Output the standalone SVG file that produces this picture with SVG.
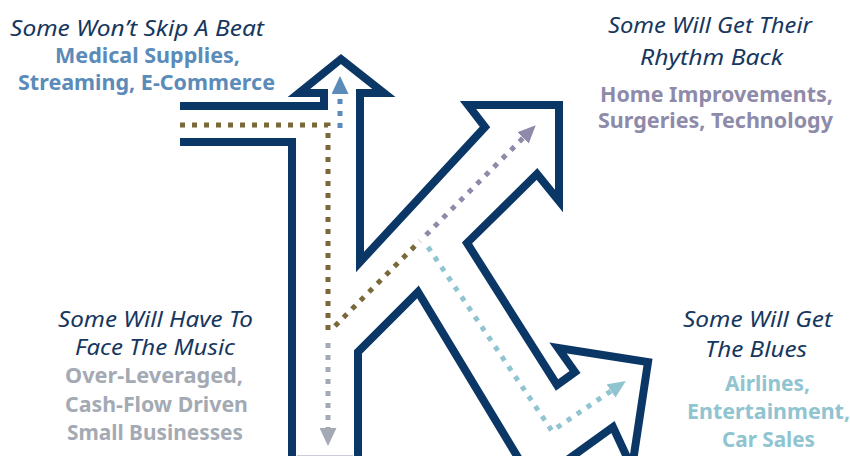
<svg xmlns="http://www.w3.org/2000/svg" width="850" height="456" viewBox="0 0 850 456">
  <style>
    .outline { fill: none; stroke: #0b3766; stroke-width: 8; stroke-linejoin: miter; stroke-miterlimit: 6; }
    .head { font-family: "Noto Sans", "Liberation Sans", Arial, sans-serif; font-style: italic; font-size: 21px; fill: #17375e; text-anchor: middle; }
    .cat { font-family: "Noto Sans", "Liberation Sans", Arial, sans-serif; font-weight: bold; font-size: 21px; text-anchor: middle; }
    .dot { fill: none; stroke-width: 5; stroke-dasharray: 5 7; }
  </style>
  <defs>
    <marker id="m-blue" markerUnits="userSpaceOnUse" markerWidth="18" markerHeight="17" viewBox="0 0 18 17" refX="0" refY="8.5" orient="auto"><path d="M0,0 L18,8.5 L0,17 z" fill="#5b8bb9"/></marker>
    <marker id="m-gray" markerUnits="userSpaceOnUse" markerWidth="18" markerHeight="17" viewBox="0 0 18 17" refX="0" refY="8.5" orient="auto"><path d="M0,0 L18,8.5 L0,17 z" fill="#a3aab4"/></marker>
    <marker id="m-purple" markerUnits="userSpaceOnUse" markerWidth="18" markerHeight="16" viewBox="0 0 18 16" refX="0" refY="8" orient="auto"><path d="M0,0 L18,8 L0,16 z" fill="#8e8aa9"/></marker>
    <marker id="m-teal" markerUnits="userSpaceOnUse" markerWidth="18" markerHeight="16" viewBox="0 0 18 16" refX="0" refY="8" orient="auto"><path d="M0,0 L18,8 L0,16 z" fill="#8fc4d0"/></marker>
  </defs>

  <g id="k-shape">
    <path class="outline" d="M180,106 L324,106 L324,93 L299,93 L341,59 L384,93 L360,93 L360,262 L485,127 L468,105 L559,105 L559,201 L537,174 L467,243 L557,385 L575,372 L558,348 L648,362 L632,468 L613,427 L534,484 L418,292 L358,352 L358,480"/>
    <path class="outline" d="M180,142 L292,142 L292,480"/>
    <line x1="297" y1="455.5" x2="353" y2="455.5" stroke="#c9ced6" stroke-width="1"/>
  </g>

  <g id="connectors">
    <path class="dot" stroke="#7a6838" d="M180,125 L328,125 L328,334"/>
    <path class="dot" stroke="#7a6838" d="M335,326 L420,241"/>
    <path class="dot" stroke="#5b8bb9" d="M340,128 L340,94" marker-end="url(#m-blue)"/>
    <path class="dot" stroke="#a3aab4" d="M328,343 L328,428" marker-end="url(#m-gray)"/>
    <path class="dot" stroke="#8e8aa9" d="M426,235 L523,138" marker-end="url(#m-purple)"/>
    <path class="dot" stroke="#8fc4d0" d="M428,247 L552,431 L611,391" marker-end="url(#m-teal)"/>
  </g>

  <g id="label-skip-a-beat">
    <text class="head" x="137" y="36" textLength="254" lengthAdjust="spacingAndGlyphs">Some Won’t Skip A Beat</text>
    <text class="cat" fill="#5b8bb9" x="147.5" y="63" textLength="185" lengthAdjust="spacingAndGlyphs">Medical Supplies,</text>
    <text class="cat" fill="#5b8bb9" x="146.5" y="90" textLength="257" lengthAdjust="spacingAndGlyphs">Streaming, E-Commerce</text>
  </g>

  <g id="label-rhythm-back">
    <text class="head" x="710" y="33" textLength="204" lengthAdjust="spacingAndGlyphs">Some Will Get Their</text>
    <text class="head" x="711.5" y="65" textLength="143" lengthAdjust="spacingAndGlyphs">Rhythm Back</text>
    <text class="cat" fill="#8e8aa9" x="716.5" y="102" textLength="233" lengthAdjust="spacingAndGlyphs">Home Improvements,</text>
    <text class="cat" fill="#8e8aa9" x="715.5" y="128" textLength="235" lengthAdjust="spacingAndGlyphs">Surgeries, Technology</text>
  </g>

  <g id="label-face-the-music">
    <text class="head" x="155.5" y="327" textLength="195" lengthAdjust="spacingAndGlyphs">Some Will Have To</text>
    <text class="head" x="155" y="355" textLength="160" lengthAdjust="spacingAndGlyphs">Face The Music</text>
    <text class="cat" fill="#a3aab4" x="154" y="383" textLength="178" lengthAdjust="spacingAndGlyphs">Over-Leveraged,</text>
    <text class="cat" fill="#a3aab4" x="156.5" y="412" textLength="183" lengthAdjust="spacingAndGlyphs">Cash-Flow Driven</text>
    <text class="cat" fill="#a3aab4" x="155" y="440" textLength="176" lengthAdjust="spacingAndGlyphs">Small Businesses</text>
  </g>

  <g id="label-the-blues">
    <text class="head" x="757.5" y="327" textLength="149" lengthAdjust="spacingAndGlyphs">Some Will Get</text>
    <text class="head" x="756" y="357" textLength="102" lengthAdjust="spacingAndGlyphs">The Blues</text>
    <text class="cat" fill="#8fc4d0" x="767.5" y="391" textLength="85" lengthAdjust="spacingAndGlyphs">Airlines,</text>
    <text class="cat" fill="#8fc4d0" x="768.5" y="419" textLength="163" lengthAdjust="spacingAndGlyphs">Entertainment,</text>
    <text class="cat" fill="#8fc4d0" x="768.5" y="447" textLength="93" lengthAdjust="spacingAndGlyphs">Car Sales</text>
  </g>
</svg>
